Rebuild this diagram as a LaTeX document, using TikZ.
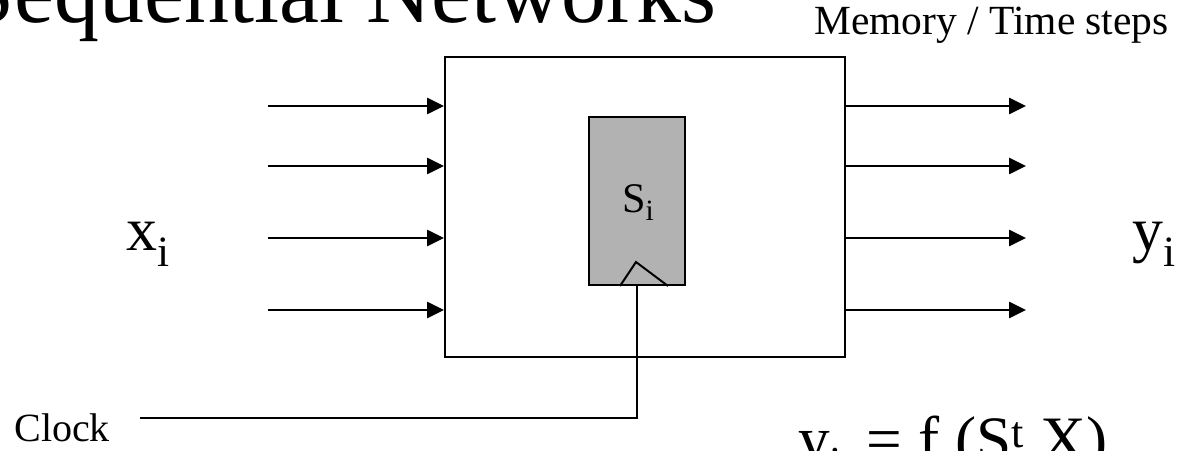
\documentclass[tikz,border=0pt]{standalone}
\usepackage{fontspec}
\setmainfont{Liberation Serif}
\usetikzlibrary{arrows.meta}

\tikzset{
	wire/.style={line width=1.4pt},
	sig/.style={wire,-{Triangle[length=0.42cm,width=0.4cm]}},
	lbl/.style={inner sep=0pt,anchor=base west}
}

\begin{document}
\begin{tikzpicture}
		%\draw[help lines,step=1] (0,0) grid (29.7,11.25); %Hilfsgitter
		\useasboundingbox (0,0) rectangle (29.7,11.25);
		
		\node[lbl,font=\fontsize{64}{64}\selectfont] (title) at (-0.9,10.68) {Sequential Networks}; %title, cut at the top
		\node[lbl,font=\fontsize{29.5}{29.5}\selectfont] (mem) at (20.35,10.38) {Memory / Time steps}; %remark top right
		
		\node[wire,draw,anchor=south west,inner sep=0,minimum width=10cm,minimum height=7.5cm] (net) at (11.1,2.3) {}; %network box
		\node[wire,draw,fill=gray!60,anchor=south west,inner sep=0,minimum width=2.4cm,minimum height=4.2cm] (reg) at (14.7,4.1) {}; %register
		\node[lbl,font=\fontsize{30}{30}\selectfont] (s) at (15.55,5.93) {S\textsubscript{i}}; %state
		\draw[wire] (15.5,4.1) -- (15.9,4.7) -- (16.7,4.1); %clock input
		
		% inputs and outputs, top to bottom
		\foreach \y [count=\i] in {8.6,7.1,5.3,3.5} {
			\coordinate (in\i) at (6.7,\y);
			\coordinate (out\i) at (25.65,\y);
			\draw[sig] (in\i) -- (in\i -| net.west); %input line
			\draw[sig] (net.east |- out\i) -- (out\i); %output line
		}
		\node[lbl,font=\fontsize{44}{44}\selectfont] (x) at (3.15,5.0) {x\textsubscript{i}}; %inputs
		\node[lbl,font=\fontsize{44}{44}\selectfont] (yout) at (28.3,5.0) {y\textsubscript{i}}; %outputs
		
		\coordinate (clk) at (3.5,0.8);
		\draw[wire] (clk) -| (reg.south); %clock line
		\node[lbl,font=\fontsize{28.5}{28.5}\selectfont] (clock) at (0.35,0.22) {Clock}; %clock label
		
		\node[lbl,font=\fontsize{45}{45}\selectfont] (f) at (19.95,-0.25) {y\textsubscript{i}\hspace{0.6cm}= f (S\textsuperscript{t},X)}; %output function, cut at the bottom
\end{tikzpicture}
\end{document}
